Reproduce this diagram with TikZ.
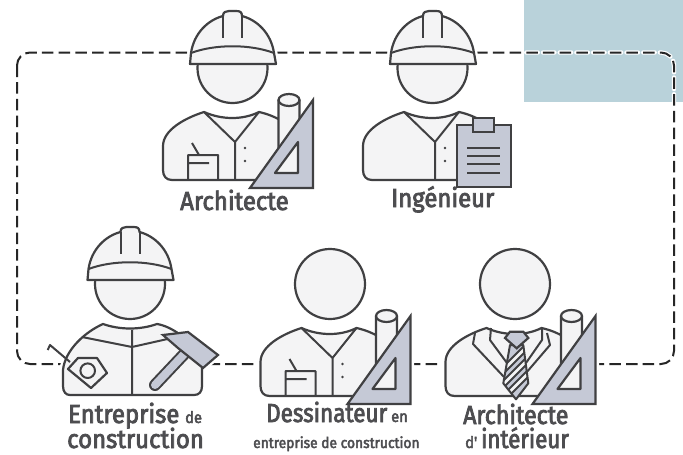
\documentclass[tikz,border=0pt]{standalone}
\usepackage{fontspec}
\newfontfamily\lab[FakeStretch=0.92,FakeBold=3]{Fira Sans}
\definecolor{ink}{HTML}{404042}
\definecolor{paper}{HTML}{F4F4F5}
\definecolor{steel}{HTML}{C5C9D6}
\definecolor{bluebox}{HTML}{B9D2DA}
\definecolor{txt}{HTML}{4D4D50}
\newcommand\Phead{(232.5,68) circle[radius=35]}
\newcommand\Phat{(190,64) -- (191,53) .. controls (194,33) and (208,20) .. (223,16) .. controls (223,12) and (226,11) .. (229,11) -- (236,11) .. controls (240,11) and (242,12) .. (242,16) .. controls (257,20) and (271,33) .. (274,53) -- (276,64) -- cycle}
\newcommand\Pbody{(163,170) -- (163,146) .. controls (163,130) and (185,118) .. (204,112) .. controls (222,120) and (243,120) .. (259,112) .. controls (268,114) and (275,117) .. (282,121) -- (282,180) -- (172,180) .. controls (166,180) and (163,176) .. (163,170) -- cycle}
\newcommand\Ptri{(313,100) -- (250,188) -- (313,188) -- cycle}
\newcommand\Phole{(298,142) -- (275,173) -- (298,173) -- cycle}
\newcommand\Pcyl{(278.5,100) -- (278.5,152) -- (299.5,125) -- (299.5,100) -- cycle}
\newcommand\Pcap{(289,100) ellipse[x radius=10.5,y radius=6]}
\newcommand\Hatfig{%
  \draw[shape ink] \Phead;
  \draw[shape ink] \Phat;
  \draw[ink line] (191,53) .. controls (215,44) and (250,44) .. (274,53);
  \draw[ink line] (223,16) -- (223,38) (242,16) -- (242,38);
}
\newcommand\Headfig{\draw[shape ink] \Phead;}
\newcommand\Coatfig{%
  \draw[shape ink] \Pbody;
  \draw[ink line] (204,112) -- (235,142) -- (259,112) (235,142) -- (235,180);
  \fill[ink] (245,148) circle[radius=1.3] (245,161) circle[radius=1.3];
}
\newcommand\Padfig{%
  \draw[ink line] (188,180) -- (188,155) -- (218,155) -- (218,180) (188,163) -- (209,163) (192,143) -- (199,155);
}
\newcommand\Rulerfig{%
  \draw[shape ink] \Pcyl;
  \draw[shape ink] \Pcap;
  \draw[steel shape] \Ptri;
  \draw[shape ink] \Phole;
}
\tikzset{
  halo/.style={draw=white,fill=white,line width=7pt,line join=round},
  shape ink/.style={draw=ink,fill=paper,line width=2.2pt,line join=round},
  steel shape/.style={draw=ink,fill=steel,line width=2.2pt,line join=miter},
  ink line/.style={draw=ink,line width=2pt,line join=round},
  dashhalo/.style={draw=white,line width=4.4pt,line cap=round,dash pattern=on 11.5pt off 5.2pt,rounded corners=13pt},
  dashink/.style={draw=black!85,line width=2pt,dash pattern=on 11.5pt off 5.2pt,rounded corners=13pt},
  big/.style={inner sep=0pt,anchor=base west,text=txt,font=\lab\fontsize{26}{26}\selectfont},
  mid/.style={inner sep=0pt,anchor=base west,text=txt,font=\lab\fontsize{15}{15}\selectfont},
  small/.style={inner sep=0pt,anchor=base west,text=txt,font=\lab\fontsize{16}{16}\selectfont},
}
\begin{document}
\begin{tikzpicture}[x=1pt,y=-1pt]
\useasboundingbox (0,0) rectangle (683,455);
\fill[bluebox] (524,0) rectangle (683,102);
\coordinate (c1) at (17,52.5);
\coordinate (c2) at (674,364);
\draw[dashhalo] (c1) rectangle (c2);
\draw[dashink] (c1) rectangle (c2);

% Architecte
\path[halo] \Phead \Phat \Pbody \Ptri \Pcyl \Pcap;
\Hatfig \Coatfig \Padfig \Rulerfig

% Ingenieur
\begin{scope}[shift={(200,0)}]
\path[halo] \Phead \Phat \Pbody (256.7,118) rectangle (311,187);
\Hatfig \Coatfig
\draw[steel shape] (256.7,125) rectangle (310.7,187);
\draw[steel shape] (273,118) rectangle (294,132);
\draw[ink line] (267,148) -- (300,148) (267,156) -- (300,156) (267,164) -- (300,164) (267,173) -- (300,173);
\end{scope}

% Entreprise de construction
\path[halo] (63,385) -- (63,370) .. controls (65,350) and (85,332) .. (103,324) .. controls (120,330) and (140,330) .. (157,324) .. controls (170,326) and (178,332) .. (188,332) -- (218,355) -- (203,368) -- (202,395) -- (70,395) -- cycle (50,345) -- (70,362) (47.7,350) -- (50,345);
\begin{scope}[shift={(-102.5,216)}]
\path[halo] \Phead \Phat;
\Hatfig
\end{scope}
\draw[shape ink] (63,386) -- (63,370) .. controls (65,350) and (85,332) .. (103,324) .. controls (120,330) and (140,330) .. (157,324) .. controls (170,326) and (190,338) .. (202,360) -- (202,386) .. controls (202,392) and (199,395) .. (194,395) -- (70,395) .. controls (66,395) and (63,392) .. (63,386) -- cycle;
\draw[ink line] (82,337) -- (132,347) -- (172,338) (132,330) -- (132,395);
\draw[ink line] (70,362) -- (50,345) -- (47.7,350);
\draw[shape ink] (68,369) -- (78,358) -- (97,358) -- (107,373) -- (91,388) -- cycle;
\draw[ink line] (87.7,370.7) circle[radius=7.3];
\draw[line width=12pt,ink,line cap=round] (188,350) -- (155,385);
\draw[line width=8pt,steel,line cap=round] (188,350) -- (155,385);
\draw[steel shape] (163,335) -- (188,332) -- (218,355) -- (203,368) -- (178,348) -- cycle;

% Dessinateur
\begin{scope}[shift={(97.5,216)}]
\path[halo] \Phead \Pbody \Ptri \Pcyl \Pcap;
\Headfig \Coatfig \Padfig \Rulerfig
\end{scope}

% Architecte d'interieur
\begin{scope}[shift={(282.5,216)}]
\path[halo] \Phead \Pbody \Ptri \Pcyl \Pcap;
\Headfig
\draw[shape ink] \Pbody;
\end{scope}
\draw[ink line] (475,333) -- (473,344) -- (504,377) (491,328) -- (490,340) -- (507,363);
\draw[ink line] (547,333) -- (550,345) -- (520,380) (542,328) -- (542,340) -- (526,363);
\begin{scope}
\clip (510,345) -- (523.3,345) -- (528.3,383.3) -- (516,399.3) -- (503.3,383.3) -- cycle;
\fill[steel] (500,340) rectangle (532,402);
\foreach \yy in {372,386,400} {
  \draw[ink line,fill=paper] (498,\yy) -- (532,\yy-34) -- (532,\yy-27) -- (498,\yy+7) -- cycle;
}
\end{scope}
\draw[ink line] (510,345) -- (523.3,345) -- (528.3,383.3) -- (516,399.3) -- (503.3,383.3) -- cycle;
\draw[steel shape] (505,338) -- (510,331.7) -- (523.3,331.7) -- (528.3,338) -- (516.7,348.3) -- cycle;
\begin{scope}[shift={(282.5,216)}]
\Rulerfig
\end{scope}

% Labels
\node[big] (n1) at (180,210) {Architecte};
\node[big] (n2) at (391,207) {Ingénieur};
\node[big] (n3) at (68,423) {Entreprise};
\node[small] (n3b) at (185,423) {de};
\node[big] (n4) at (67,448) {construction};
\node[big] (n5) at (266,422) {\scalebox{0.94}[1]{Dessinateur}};
\node[small] (n5b) at (391,422) {en};
\node[mid] (n6) at (253,448) {entreprise de construction};
\node[big] (n7) at (463,424) {\scalebox{0.97}[1]{Architecte}};
\node[small] (n8) at (465,448) {d'};
\node[big] (n9) at (481,448) {\scalebox{0.93}[1]{intérieur}};
\end{tikzpicture}
\end{document}
